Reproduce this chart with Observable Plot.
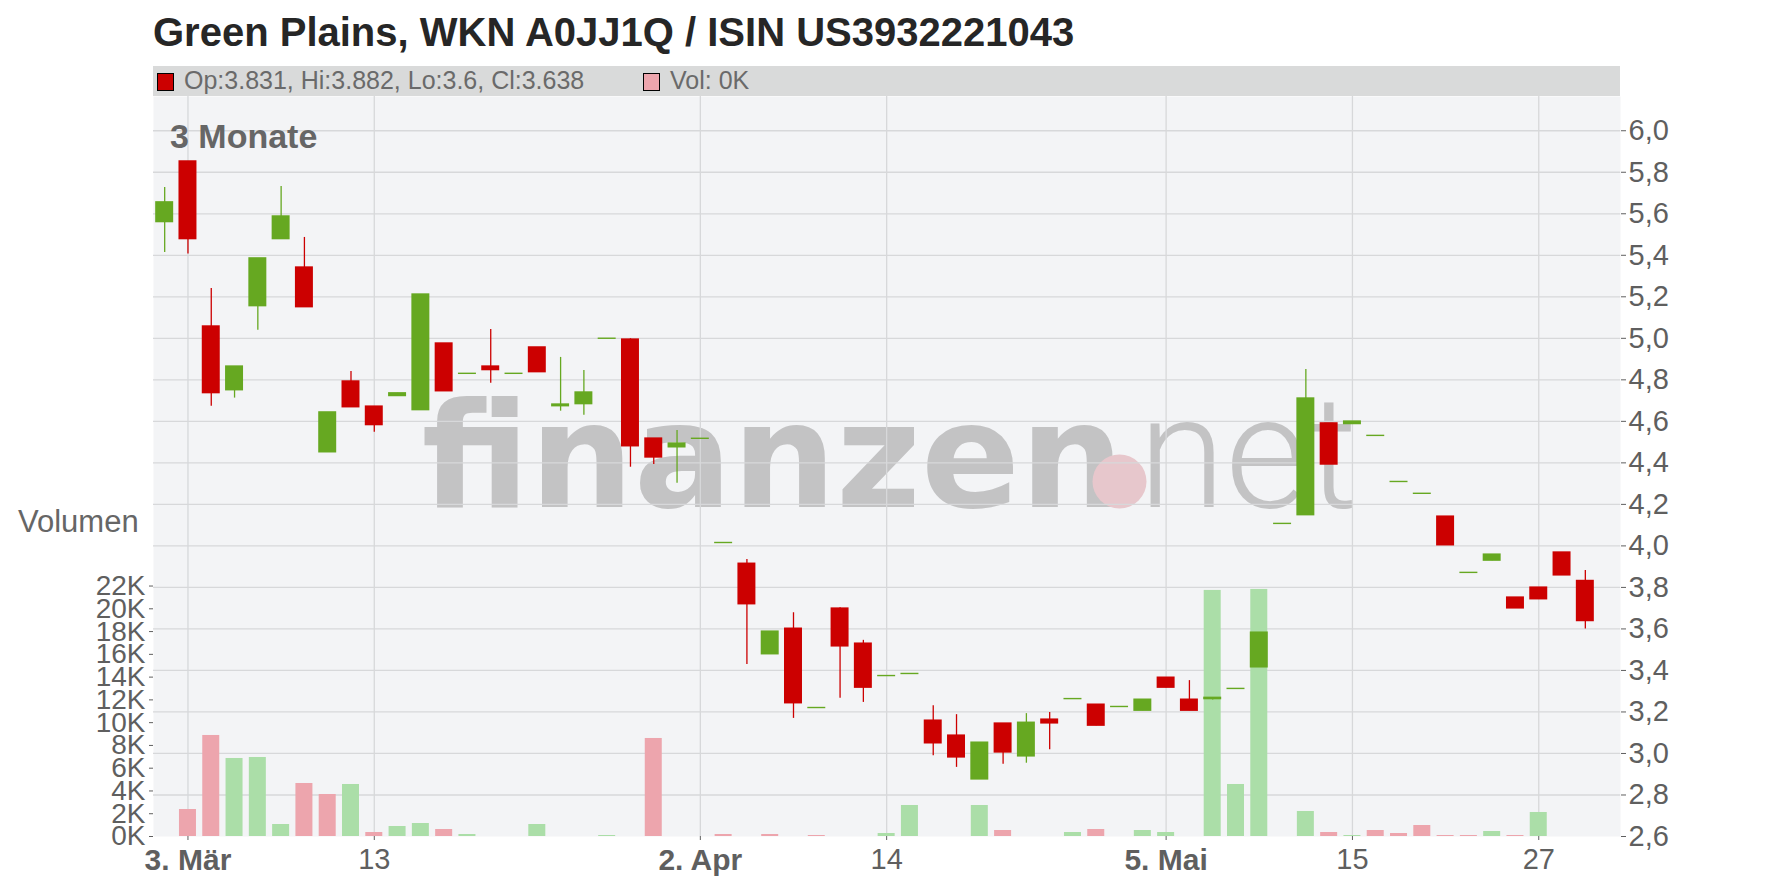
<!DOCTYPE html>
<html>
<head>
<meta charset="utf-8">
<script src="https://cdn.jsdelivr.net/npm/d3@7"></script>
<script src="https://cdn.jsdelivr.net/npm/@observablehq/plot@0.6"></script>
<style>
  html, body { margin: 0; padding: 0; background: #fff; }
  #wrap { position: relative; width: 1776px; height: 888px; overflow: hidden; font-family: "Liberation Sans", Arial, sans-serif; }
  .abs { position: absolute; white-space: nowrap; }
</style>
</head>
<body>
<div id="wrap"></div>
<script>
// ---------- data (trading-day index 0 = 28 Feb, last = 29 May) ----------
const open  = [5.560,5.852,5.057,4.750,5.155,5.478,5.341,4.451,4.792,4.671,4.722,4.654,4.975,4.829,4.864,4.829,4.956,4.673,4.683,4.998,
               4.994,4.517,4.475,4.516,4.014,3.914,3.478,3.601,3.219,3.698,3.529,3.373,3.383,3.158,3.086,2.875,3.144,2.986,3.163,3.262,
               3.235,3.224,3.206,3.365,3.259,3.262,3.311,3.415,4.106,4.148,4.590,4.587,4.530,4.308,4.251,4.141,3.870,3.929,3.751,3.799,
               3.968,3.831];
const high  = [5.727,5.852,5.240,4.864,5.385,5.732,5.486,4.643,4.840,4.671,4.735,5.211,4.975,4.829,5.043,4.829,4.956,4.908,4.845,4.998,
               4.998,4.517,4.556,4.516,4.014,3.934,3.587,3.678,3.219,3.702,3.545,3.373,3.383,3.230,3.187,3.052,3.144,3.192,3.197,3.262,
               3.235,3.224,3.259,3.365,3.351,3.268,3.311,3.582,4.106,4.850,4.590,4.599,4.530,4.308,4.251,4.141,3.870,3.958,3.751,3.799,
               3.968,3.882];
const low   = [5.414,5.406,4.673,4.712,5.039,5.478,5.150,4.451,4.668,4.548,4.722,4.654,4.745,4.829,4.784,4.829,4.837,4.649,4.630,4.998,
               4.379,4.392,4.302,4.516,4.014,3.429,3.478,3.169,3.219,3.266,3.246,3.373,3.383,2.989,2.933,2.875,2.948,2.953,3.018,3.262,
               3.134,3.224,3.206,3.317,3.206,3.257,3.311,3.415,4.106,4.148,4.392,4.587,4.530,4.308,4.251,4.003,3.870,3.929,3.699,3.743,
               3.858,3.600];
const close = [5.655,5.478,4.736,4.864,5.385,5.587,5.150,4.643,4.668,4.582,4.735,5.211,4.745,4.829,4.847,4.829,4.837,4.681,4.739,4.998,
               4.480,4.426,4.493,4.516,4.014,3.719,3.587,3.242,3.219,3.516,3.317,3.373,3.383,3.049,2.981,3.052,3.005,3.148,3.145,3.262,
               3.134,3.224,3.259,3.317,3.206,3.268,3.311,3.582,4.106,4.710,4.392,4.599,4.530,4.308,4.251,4.003,3.870,3.958,3.699,3.743,
               3.858,3.638];
const volume = [0,2372,8874,6853,6941,1054,4656,3690,4569,351,879,1142,615,176,0,0,1054,0,0,88,
                0,8610,0,0,176,0,176,0,88,0,0,264,2724,0,0,2724,527,0,0,351,
                615,0,527,351,0,21614,4569,21701,0,2197,351,88,527,264,966,88,88,439,88,2109,
                0,0];

const priceTicks = [2.6,2.8,3.0,3.2,3.4,3.6,3.8,4.0,4.2,4.4,4.6,4.8,5.0,5.2,5.4,5.6,5.8,6.0];
const volTicks   = [0,2000,4000,6000,8000,10000,12000,14000,16000,18000,20000,22000];
const xTickIdx    = [1, 9, 23, 31, 43, 51, 59];
const xTickLabels = ["3. Mär", "13", "2. Apr", "14", "5. Mai", "15", "27"];
const xTickBold   = [true, false, true, false, true, false, false];

const titleText  = "Green Plains, WKN A0JJ1Q / ISIN US3932221043";
const legendText = "Op:3.831, Hi:3.882, Lo:3.6, Cl:3.638";
const volLegend  = "Vol: 0K";

// ---------- styling ----------
const GREEN = "#66a821", RED = "#cc0000", VGREEN = "#abdea8", VPINK = "#eda5ad";
const GRID = "#d7d8da", BG = "#f3f4f6", AXIS = "#5f5f5f";
const FONT = "Liberation Sans, Arial, sans-serif";
const W = 1776, H = 888, mL = 153, mR = 156, mT = 96, mB = 52;
const xDomain = [-0.48, 62.51];

const rows = open.map((o, i) => ({
  i, open: o, high: high[i], low: low[i], close: close[i], volume: volume[i],
  up: close[i] >= o,
  vup: i === 0 ? true : close[i] >= close[i - 1]
}));
const vols = rows.filter(d => d.volume > 0);

const common = {
  width: W, height: H, marginLeft: mL, marginRight: mR, marginTop: mT, marginBottom: mB,
  x: {type: "linear", domain: xDomain, axis: null},
  color: {type: "identity"}
};
const layerStyle = {position: "absolute", left: "0px", top: "0px", background: "transparent", fontFamily: FONT, overflow: "visible"};
const xLabel = t => xTickLabels[xTickIdx.indexOf(t)];

// layer 1: background, watermark, grid (price units)
const back = Plot.plot({
  ...common,
  y: {domain: [2.6, 6.165], axis: null},
  style: layerStyle,
  marks: [
    Plot.frame({fill: BG, stroke: null}),
    Plot.text(["finanzen"], {frameAnchor: "top-left", dx: 268, dy: 410, textAnchor: "start", lineAnchor: "bottom",
      fontFamily: "DejaVu Sans", fontWeight: "bold", fontSize: 146, fill: "#c3c3c4", style: "letter-spacing:-12px"}),
    Plot.dot([0], {frameAnchor: "top-left", dx: 1119 - mL, dy: 481 - mT, r: 27, fill: "#e7c7cc", stroke: null}),
    Plot.text(["net"], {frameAnchor: "top-left", dx: 985, dy: 410, textAnchor: "start", lineAnchor: "bottom",
      fontFamily: "Roboto", fontWeight: 300, fontSize: 158, fill: "#c3c3c4", style: "letter-spacing:-13px"}),
    Plot.ruleY(priceTicks.slice(1), {stroke: GRID, strokeWidth: 1.3}),
    Plot.ruleX(xTickIdx, {stroke: GRID, strokeWidth: 1.3})
  ]
});

// layer 2: volume bars, left volume axis, bottom date axis
const vol = Plot.plot({
  ...common,
  y: {domain: [0, 65000], axis: null},
  style: layerStyle,
  marks: [
    Plot.rect(vols, {x1: d => d.i - 0.365, x2: d => d.i + 0.365, y1: 0, y2: "volume",
      fill: d => d.vup ? VGREEN : VPINK}),
    Plot.axisY(volTicks, {anchor: "left", tickSize: 4, tickPadding: 4, fontSize: 28, color: AXIS,
      tickFormat: d => (d / 1000) + "K", label: null}),
    Plot.axisX(xTickIdx.filter((t, k) => xTickBold[k]), {anchor: "bottom", tickSize: 4, tickPadding: 8, fontSize: 30,
      fontWeight: "bold", color: AXIS, label: null, tickFormat: xLabel}),
    Plot.axisX(xTickIdx.filter((t, k) => !xTickBold[k]), {anchor: "bottom", tickSize: 4, tickPadding: 8, fontSize: 29,
      color: AXIS, label: null, tickFormat: xLabel})
  ]
});

// layer 3: candles + right price axis
const candles = Plot.plot({
  ...common,
  y: {domain: [2.6, 6.165], axis: null},
  style: layerStyle,
  marks: [
    Plot.ruleX(rows, {x: "i", y1: "low", y2: "high", stroke: d => d.up ? GREEN : RED, strokeWidth: 1.3}),
    Plot.rect(rows, {x1: d => d.i - 0.386, x2: d => d.i + 0.386, y1: "open", y2: "close",
      fill: d => d.up ? GREEN : RED, insetTop: -0.7, insetBottom: -0.7}),
    Plot.axisY(priceTicks, {anchor: "right", tickSize: 5, tickPadding: 3, fontSize: 29, color: AXIS,
      tickFormat: d => d.toFixed(1).replace(".", ","), label: null})
  ]
});

const wrap = document.getElementById("wrap");
wrap.appendChild(back);
wrap.appendChild(vol);
wrap.appendChild(candles);

function addDiv(html, css) {
  const d = document.createElement("div");
  d.className = "abs";
  d.textContent = html;
  Object.assign(d.style, css);
  wrap.appendChild(d);
  return d;
}
// title
addDiv(titleText, {left: "153px", top: "12px", fontSize: "40px", lineHeight: "40px", fontWeight: "bold", color: "#262626"});
// legend bar
addDiv("", {left: "153px", top: "66px", width: "1467px", height: "30px", background: "#d9dada"});
addDiv("", {left: "157px", top: "73px", width: "15px", height: "16px", background: RED, border: "1px solid #000"});
addDiv(legendText, {left: "184px", top: "68px", fontSize: "25px", lineHeight: "25px", color: "#6a6a6a"});
addDiv("", {left: "643px", top: "73px", width: "15px", height: "16px", background: VPINK, border: "1px solid #000"});
addDiv(volLegend, {left: "670px", top: "68px", fontSize: "25px", lineHeight: "25px", color: "#6a6a6a"});
// labels
addDiv("3 Monate", {left: "170px", top: "119px", fontSize: "34px", lineHeight: "34px", fontWeight: "bold", color: "#666"});
addDiv("Volumen", {left: "18px", top: "506px", fontSize: "31px", lineHeight: "31px", color: "#666"});
</script>
</body>
</html>
